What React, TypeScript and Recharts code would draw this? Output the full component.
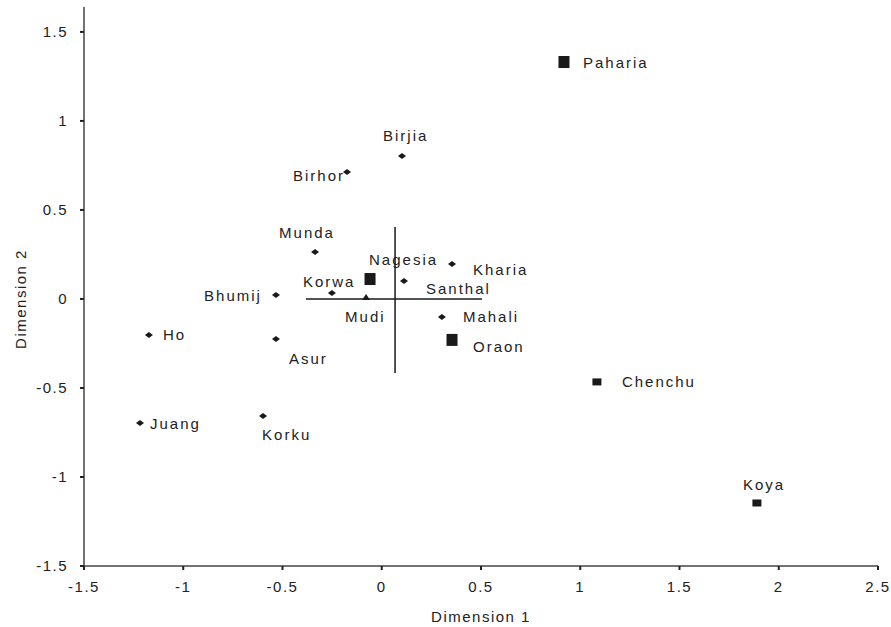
import React from 'react';
import { ScatterChart, Scatter, XAxis, YAxis, ReferenceLine } from 'recharts';

// tribe coordinates
const TRIBES = ['Paharia', 'Birjia', 'Birhor', 'Munda', 'Nagesia', 'Kharia', 'Santhal', 'Korwa', 'Mudi', 'Bhumij', 'Mahali', 'Oraon', 'Ho', 'Asur', 'Chenchu', 'Juang', 'Korku', 'Koya'];
const DIM1 = [0.918, 0.102, -0.175, -0.336, -0.059, 0.354, 0.112, -0.251, -0.079, -0.533, 0.303, 0.354, -1.173, -0.533, 1.084, -1.218, -0.598, 1.89];
const DIM2 = [1.331, 0.803, 0.713, 0.264, 0.112, 0.197, 0.101, 0.034, 0.011, 0.022, -0.101, -0.23, -0.202, -0.225, -0.466, -0.697, -0.657, -1.146];
const GROUP = ['B', 'A', 'A', 'A', 'B', 'A', 'A', 'A', 'D', 'A', 'A', 'B', 'A', 'A', 'C', 'A', 'A', 'C'];

const X_TICKS = [-1.5, -1, -0.5, 0, 0.5, 1, 1.5, 2, 2.5];
const Y_TICKS = [-1.5, -1, -0.5, 0, 0.5, 1, 1.5];

// centroid cross
const CROSS_H = [{ x: -0.382, y: 0 }, { x: 0.505, y: 0 }];
const CROSS_V = [{ x: 0.067, y: 0.404 }, { x: 0.067, y: -0.416 }];

const points = TRIBES.map((name, i) => ({ name, x: DIM1[i], y: DIM2[i], group: GROUP[i] }));

// label placement relative to marker
const LABEL_POS: Record<string, { dx: number; dy: number; anchor?: 'start' | 'end' }> = {
  Paharia: { dx: 19, dy: 0 },
  Birjia: { dx: -19, dy: -21 },
  Birhor: { dx: -2, dy: 3, anchor: 'end' },
  Munda: { dx: -36, dy: -19 },
  Nagesia: { dx: -1, dy: -20 },
  Kharia: { dx: 21, dy: 6 },
  Santhal: { dx: 22, dy: 8 },
  Korwa: { dx: -29, dy: -11 },
  Mudi: { dx: -21, dy: 19 },
  Bhumij: { dx: -14, dy: 0, anchor: 'end' },
  Mahali: { dx: 21, dy: 0 },
  Oraon: { dx: 21, dy: 7 },
  Ho: { dx: 14, dy: 0 },
  Asur: { dx: 13, dy: 19 },
  Chenchu: { dx: 25, dy: 0 },
  Juang: { dx: 10, dy: 0 },
  Korku: { dx: -1, dy: 19 },
  Koya: { dx: -14, dy: -18 },
};

const FONT = '"Liberation Sans", Arial, sans-serif';
const INK = '#1a1a1a';

const Marker = ({ group, cx, cy }: { group: string; cx: number; cy: number }) => {
  if (group === 'B') return <rect x={cx - 5.5} y={cy - 6} width={11} height={12} fill={INK} />;
  if (group === 'C') return <rect x={cx - 4.5} y={cy - 3.5} width={9} height={7} fill={INK} />;
  if (group === 'D')
    return <polygon points={`${cx - 4},${cy + 3} ${cx},${cy - 3} ${cx + 4},${cy + 3}`} fill={INK} />;
  return <polygon points={`${cx - 4},${cy} ${cx},${cy - 3} ${cx + 4},${cy} ${cx},${cy + 3}`} fill={INK} />;
};

const PointShape = (props: any) => {
  const { cx, cy, payload } = props;
  if (cx == null || cy == null) return null;
  const pos = LABEL_POS[payload.name] || { dx: 10, dy: 0 };
  return (
    <g>
      <Marker group={payload.group} cx={cx} cy={cy} />
      <text
        x={cx + pos.dx}
        y={cy + pos.dy}
        textAnchor={pos.anchor || 'start'}
        dominantBaseline="central"
        fill="#222"
        fontFamily={FONT}
        fontSize={15}
        letterSpacing={2}
      >
        {payload.name}
      </text>
    </g>
  );
};

const tickStyle = { fill: '#222', fontFamily: FONT, fontSize: 15, letterSpacing: 1.5 };

const App = () => {
  return (
    <div style={{ position: 'absolute', left: 0, top: 0, background: '#fff' }}>
      <ScatterChart width={891} height={627} margin={{ top: 7, right: 13, bottom: 0, left: 0 }}>
        <XAxis
          type="number"
          dataKey="x"
          domain={[-1.5, 2.5]}
          ticks={X_TICKS}
          height={61}
          axisLine={{ stroke: '#444', strokeWidth: 1.5 }}
          tickLine={{ stroke: '#222', strokeWidth: 2 }}
          tickSize={4}
          tickMargin={11}
          tick={tickStyle}
          label={{
            value: 'Dimension 1',
            position: 'insideBottom',
            offset: 5,
            style: { fill: '#222', fontFamily: FONT, fontSize: 15, letterSpacing: 1.5 },
          }}
        />
        <YAxis
          type="number"
          dataKey="y"
          domain={[-1.5, 1.64]}
          ticks={Y_TICKS}
          width={84}
          axisLine={{ stroke: '#444', strokeWidth: 1.5 }}
          tickLine={{ stroke: '#222', strokeWidth: 2 }}
          tickSize={4}
          tickMargin={12}
          tick={tickStyle}
          label={{
            content: () => (
              <text
                x={20}
                y={299}
                transform="rotate(-90 20 299)"
                textAnchor="middle"
                dominantBaseline="central"
                fill="#222"
                fontFamily={FONT}
                fontSize={15}
                letterSpacing={1.5}
              >
                Dimension 2
              </text>
            ),
          }}
        />
        <ReferenceLine segment={CROSS_H} stroke={INK} strokeWidth={1.5} />
        <ReferenceLine segment={CROSS_V} stroke={INK} strokeWidth={1.5} />
        <Scatter data={points} shape={PointShape} isAnimationActive={false} />
      </ScatterChart>
    </div>
  );
};

export default App;
